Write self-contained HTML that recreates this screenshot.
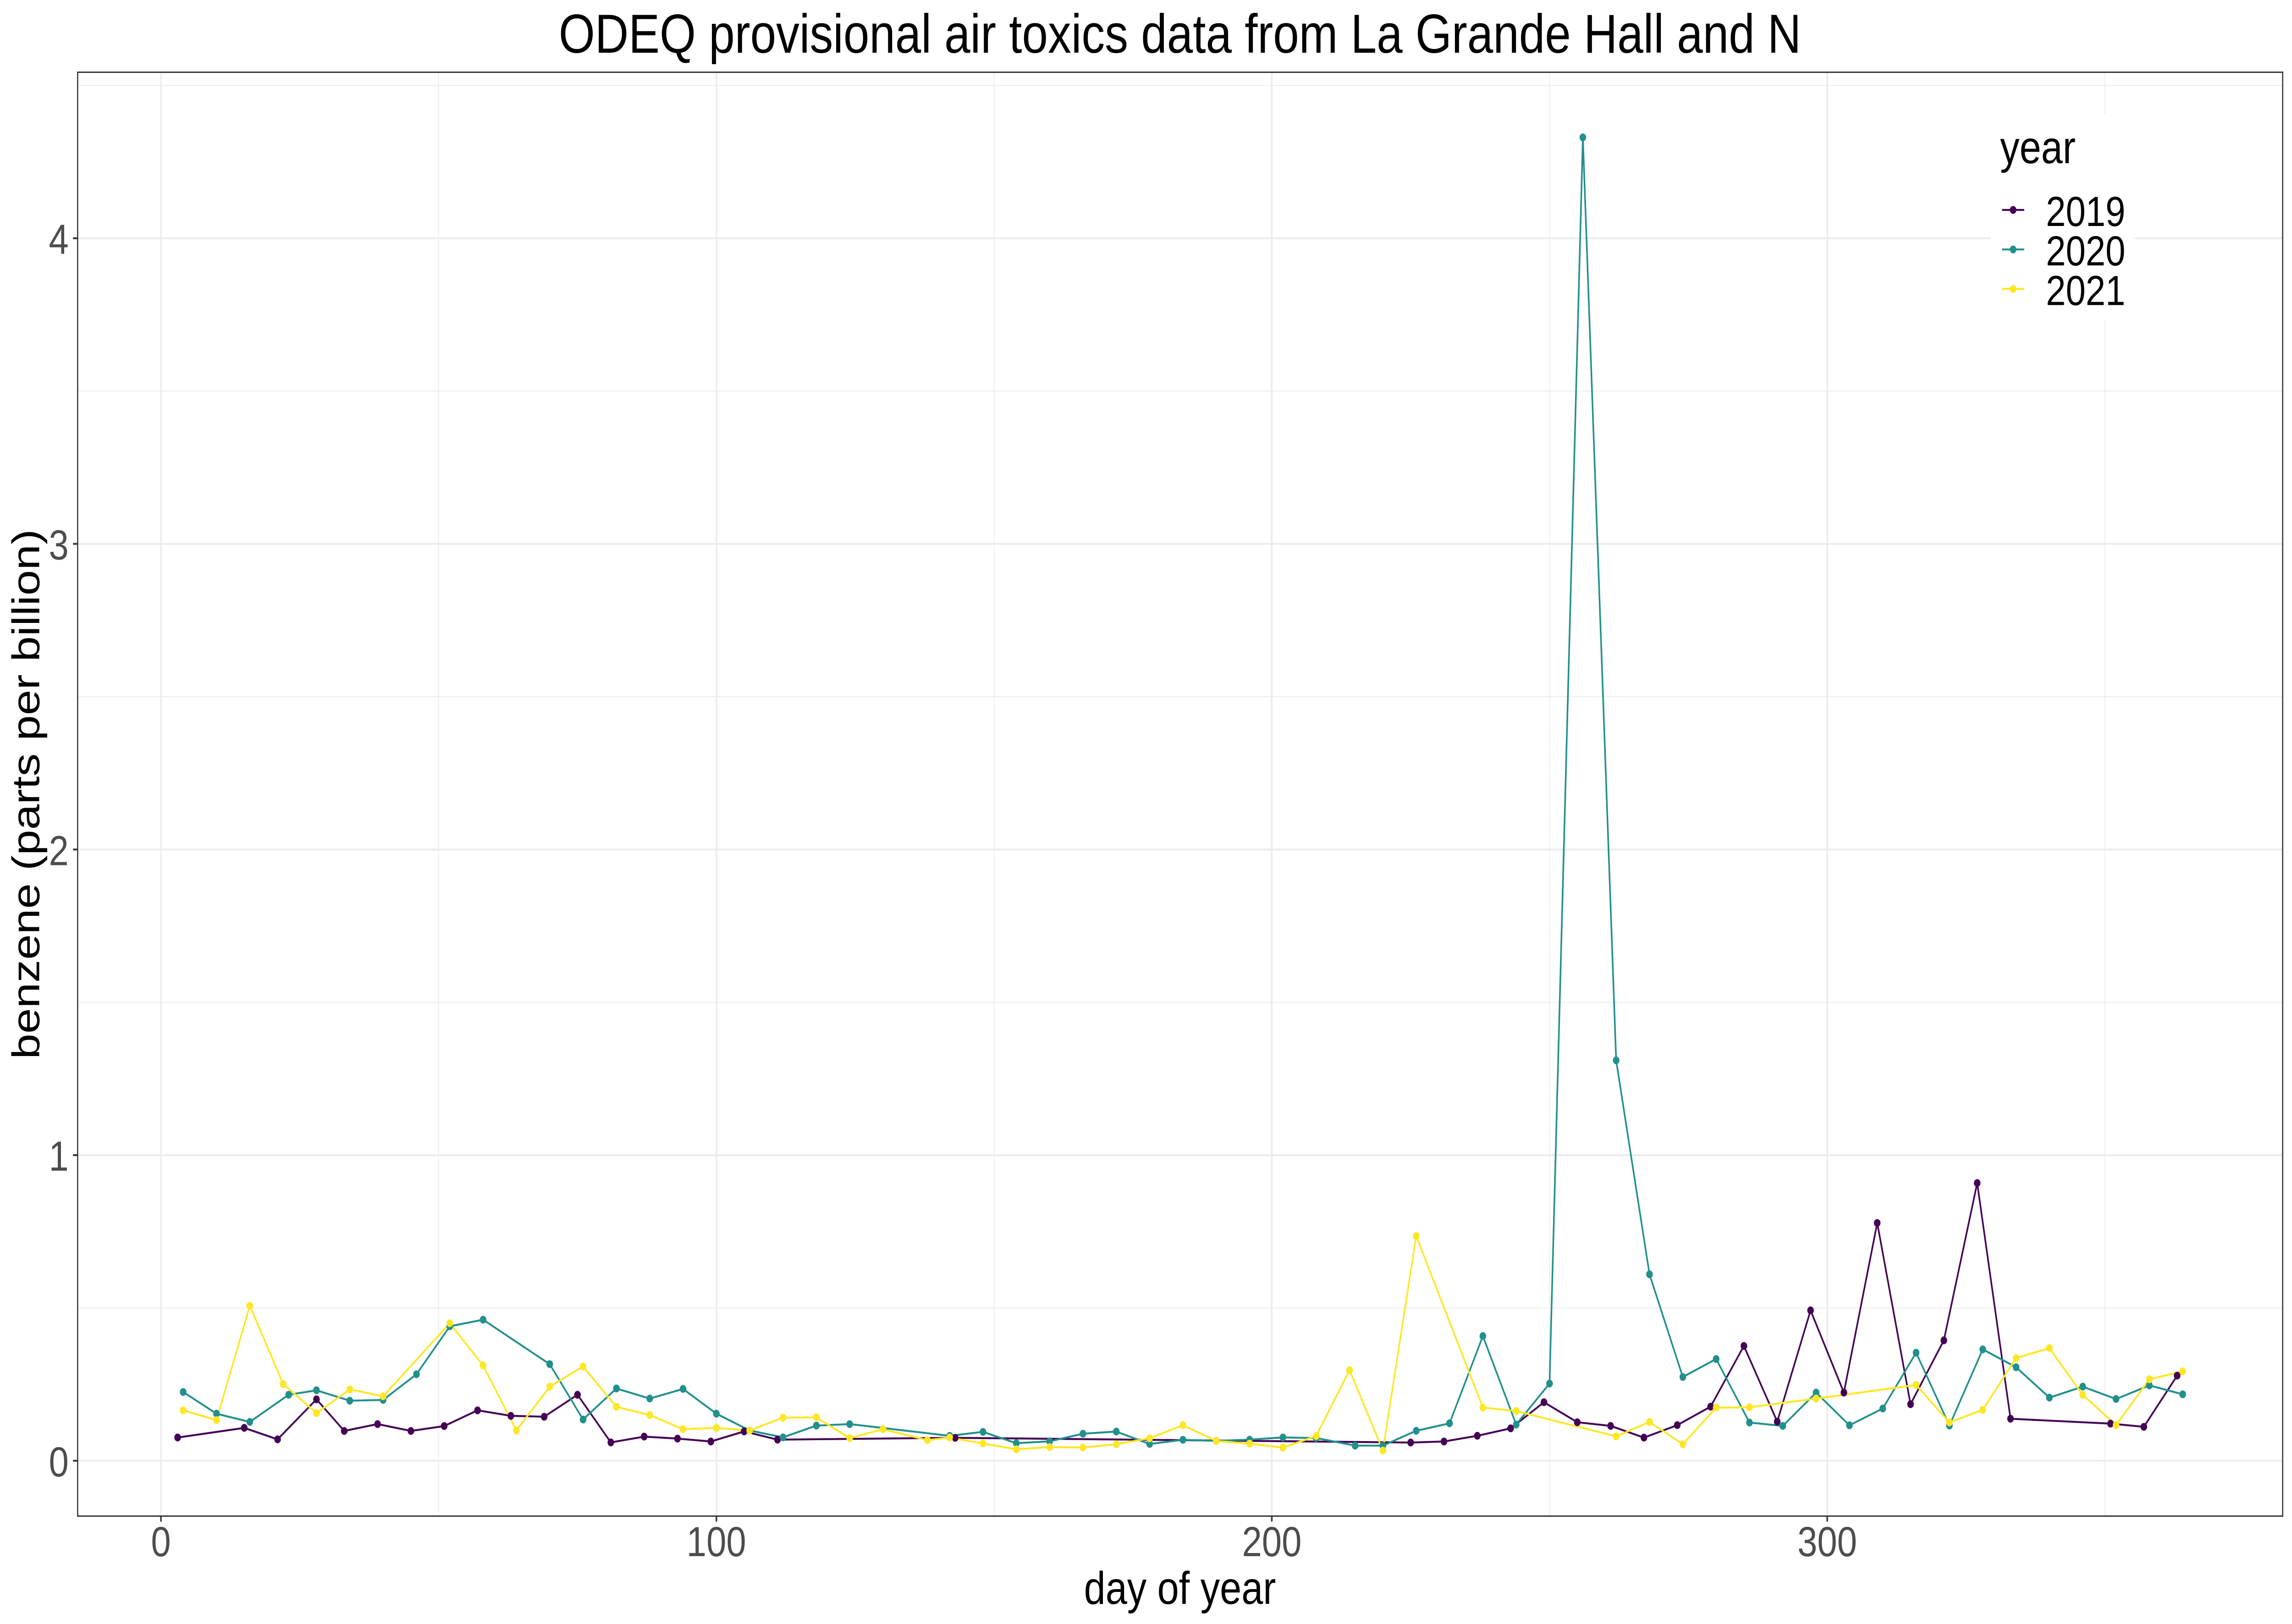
<!DOCTYPE html>
<html lang="en">
<head>
<meta charset="utf-8">
<title>ODEQ provisional air toxics data</title>
<style>
html,body{margin:0;padding:0;background:#fff;width:100%;height:100%;overflow:hidden;}
svg{display:block;width:100vw;height:100vh;font-family:"Liberation Sans",Arial,sans-serif;}
</style>
</head>
<body>
<svg id="chart" xmlns="http://www.w3.org/2000/svg" viewBox="0 0 5905 3543" preserveAspectRatio="none">
  <rect x="0" y="0" width="5905" height="3543" fill="#ffffff"/>
  <g id="grid"></g>
  <g id="lines"></g>
  <g id="points"></g>
  <rect x="200" y="157.6" width="5681" height="3150" fill="none" stroke="#333333" stroke-width="3"/>
  <g id="ticks"></g>
  <text x="3040" y="115" text-anchor="middle" font-size="120" fill="#000000">ODEQ provisional air toxics data from La Grande Hall and N</text>
  <text x="3040" y="3499" text-anchor="middle" font-size="100" fill="#000000">day of year</text>
  <text transform="translate(101,1732.6) rotate(-90)" text-anchor="middle" font-size="100" fill="#000000">benzene (parts per billion)</text>
  <g id="legend">
    <rect x="5128" y="248" width="371" height="449" fill="#ffffff"/>
    <text x="5153" y="356" font-size="100" fill="#000000">year</text>
  </g>
</svg>
<script>
const xMajorTicks = [0, 100, 200, 300];
const xMinorTicks = [50, 150, 250, 350];
const yMajorTicks = [0, 1, 2, 3, 4];
const yMinorTicks = [0.5, 1.5, 2.5, 3.5, 4.5];
const seriesNames = ['2019', '2020', '2021'];

const days2019 = [3,15,21,28,33,39,45,51,57,63,69,75,81,87,93,99,105,111,143,225,231,237,243,249,255,261,267,273,279,285,291,297,303,309,315,321,327,333,351,357,363];
const benzene2019 = [0.076,0.1075,0.07,0.201,0.0975,0.12,0.0975,0.1135,0.165,0.147,0.144,0.216,0.06,0.079,0.0725,0.063,0.096,0.069,0.075,0.0596,0.063,0.0817,0.106,0.1915,0.126,0.114,0.0757,0.1165,0.177,0.3756,0.128,0.492,0.223,0.778,0.185,0.394,0.9086,0.1375,0.1215,0.111,0.2785];

const days2020 = [4,10,16,23,28,34,40,46,52,58,70,76,82,88,94,100,106,112,118,124,142,148,154,160,166,172,178,184,190,196,202,208,215,220,226,232,238,244,250,256,262,268,274,280,286,292,298,304,310,316,322,328,334,340,346,352,358,364];
const benzene2020 = [0.225,0.154,0.127,0.216,0.2305,0.1965,0.199,0.283,0.44,0.4615,0.316,0.135,0.2365,0.2035,0.235,0.154,0.099,0.0765,0.115,0.12,0.0815,0.0945,0.0575,0.0635,0.0885,0.0955,0.055,0.0685,0.065,0.069,0.0763,0.0743,0.0495,0.0495,0.098,0.1225,0.408,0.1185,0.2525,4.33,1.31,0.61,0.274,0.333,0.125,0.114,0.223,0.116,0.171,0.3535,0.115,0.3645,0.306,0.2065,0.2425,0.202,0.2465,0.2175];

const days2021 = [4,10,16,22,28,34,40,52,58,64,70,76,82,88,94,100,106,112,118,124,130,138,142,148,154,160,166,172,178,184,190,196,202,208,214,220,226,238,244,262,268,274,280,286,298,316,322,328,334,340,346,352,358,364];
const benzene2021 = [0.165,0.133,0.507,0.2515,0.156,0.2335,0.211,0.45,0.312,0.099,0.2425,0.3085,0.1765,0.1495,0.1035,0.1075,0.099,0.141,0.142,0.074,0.103,0.0675,0.076,0.0565,0.0375,0.0445,0.0435,0.054,0.0735,0.1165,0.0645,0.056,0.043,0.081,0.2966,0.0335,0.735,0.174,0.1627,0.0797,0.127,0.054,0.1735,0.175,0.2035,0.248,0.1255,0.1665,0.336,0.3685,0.2155,0.117,0.2665,0.2925];

const seriesDays = [days2019, days2020, days2021];
const seriesValues = [benzene2019, benzene2020, benzene2021];
const seriesColors = ['#440154', '#21908C', '#FDE725'];

const SVG_NS = 'http://www.w3.org/2000/svg';
const panel = { left: 200, right: 5881, top: 157.6, bottom: 3307.6 };
const xDomain = [-15, 382];
const yDomain = [-0.1811, 4.5432];

function xScale(d) {
  return panel.left + (d - xDomain[0]) / (xDomain[1] - xDomain[0]) * (panel.right - panel.left);
}
function yScale(v) {
  return panel.bottom - (v - yDomain[0]) / (yDomain[1] - yDomain[0]) * (panel.bottom - panel.top);
}
function make(tag, attrs, parent) {
  const el = document.createElementNS(SVG_NS, tag);
  Object.keys(attrs).forEach(function (k) { el.setAttribute(k, attrs[k]); });
  parent.appendChild(el);
  return el;
}

const gridG = document.getElementById('grid');
const ticksG = document.getElementById('ticks');
const linesG = document.getElementById('lines');
const pointsG = document.getElementById('points');
const legendG = document.getElementById('legend');

yMinorTicks.forEach(function (v) {
  const el = make('line', { x1: panel.left, x2: panel.right, y1: yScale(v), y2: yScale(v), stroke: '#EBEBEB', 'stroke-width': 2 }, gridG);
  
  
});
xMinorTicks.forEach(function (d) {
  const el = make('line', { x1: xScale(d), x2: xScale(d), y1: panel.top, y2: panel.bottom, stroke: '#EBEBEB', 'stroke-width': 2 }, gridG);
  
  
});
yMajorTicks.forEach(function (v) {
  const el = make('line', { x1: panel.left, x2: panel.right, y1: yScale(v), y2: yScale(v), stroke: '#EBEBEB', 'stroke-width': 4 }, gridG);
  
  
});
xMajorTicks.forEach(function (d) {
  const el = make('line', { x1: xScale(d), x2: xScale(d), y1: panel.top, y2: panel.bottom, stroke: '#EBEBEB', 'stroke-width': 4 }, gridG);
  
  
});

xMajorTicks.forEach(function (d) {
  const tick = make('line', { x1: xScale(d), x2: xScale(d), y1: panel.bottom, y2: panel.bottom + 12, stroke: '#333333', 'stroke-width': 4 }, ticksG);
  
  
  const label = make('text', { x: xScale(d), y: 3395, 'text-anchor': 'middle', 'font-size': 92, fill: '#4D4D4D' }, ticksG);
  label.textContent = String(d);
  
  
});
yMajorTicks.forEach(function (v) {
  const tick = make('line', { x1: panel.left - 12, x2: panel.left, y1: yScale(v), y2: yScale(v), stroke: '#333333', 'stroke-width': 4 }, ticksG);
  
  
  const label = make('text', { x: 177, y: yScale(v) + 34, 'text-anchor': 'end', 'font-size': 92, fill: '#4D4D4D' }, ticksG);
  label.textContent = String(v);
  
  
});

seriesNames.forEach(function (name, s) {
  const pts = seriesDays[s].map(function (d, i) {
    return xScale(d).toFixed(1) + ',' + yScale(seriesValues[s][i]).toFixed(1);
  }).join(' ');
  const line = make('polyline', { points: pts, fill: 'none', stroke: seriesColors[s], 'stroke-width': 4.2, 'stroke-linejoin': 'round' }, linesG);
  
  
});
seriesNames.forEach(function (name, s) {
  seriesDays[s].forEach(function (d, i) {
    const dot = make('circle', { cx: xScale(d), cy: yScale(seriesValues[s][i]), r: 8.5, fill: seriesColors[s] }, pointsG);
    
    
  });
});

seriesNames.forEach(function (name, s) {
  const keyY = 458 + s * 86.2;
  const keyLine = make('line', { x1: 5158, x2: 5215, y1: keyY, y2: keyY, stroke: seriesColors[s], 'stroke-width': 4.2 }, legendG);
  
  
  const keyDot = make('circle', { cx: 5186.5, cy: keyY, r: 8.5, fill: seriesColors[s] }, legendG);
  
  
  const keyText = make('text', { x: 5271, y: keyY + 35, 'font-size': 92, fill: '#000000' }, legendG);
  keyText.textContent = name;
  
  
});
</script>
</body>
</html>
